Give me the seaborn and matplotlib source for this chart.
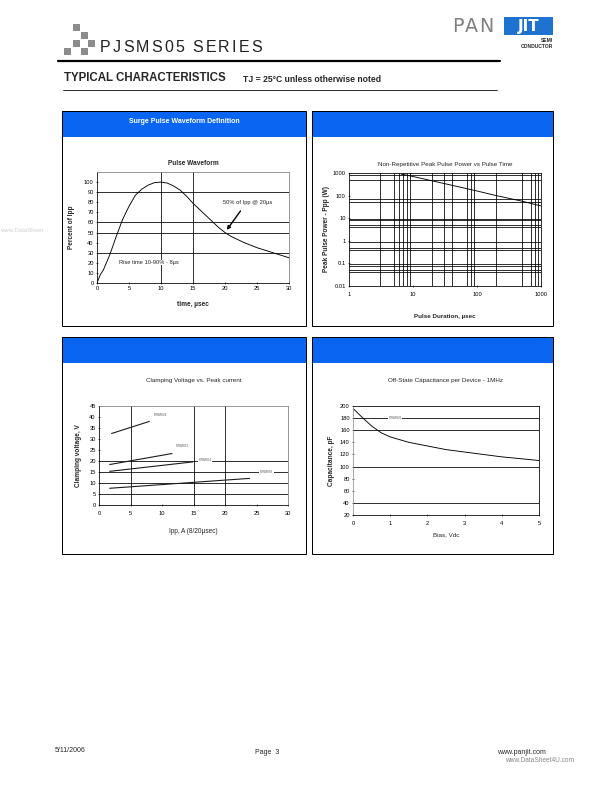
import numpy as np
import pandas as pd
import matplotlib
matplotlib.use("Agg")
import matplotlib.pyplot as plt
from matplotlib.patches import Rectangle
from matplotlib.ticker import FixedLocator, FixedFormatter, NullLocator
import seaborn as sns

# Pulse waveform (8/20us)
pulse_time = [0, 0.5, 1, 2, 3, 4, 5, 6, 7, 8, 9, 10, 11, 12, 13, 14, 15, 16,
              17, 18, 19, 20, 21, 22, 23, 24, 25, 26, 27, 28, 29, 30]
pulse_pct = [0, 8, 13, 28, 46, 63, 76, 87, 93, 97, 99.5, 100, 99, 96, 92, 86,
             79, 73, 67, 61, 55, 50, 46, 43, 40, 37.5, 35, 33, 31, 29, 27, 25]

# Peak pulse power vs pulse time
pulse_dur = [6.5, 10, 20, 50, 100, 200, 500, 1000]
peak_power = [900, 700, 450, 250, 160, 100, 57, 35]

# Clamping voltage vs peak current
clamp_devices = ["PJSMS24", "PJSMS15", "PJSMS12", "PJSMS05"]
clamp_ipp = [[2.0, 8.0], [1.7, 11.6], [1.7, 14.9], [1.7, 23.9]]
clamp_vc = [[32.5, 38.0], [18.4, 23.4], [15.3, 19.6], [7.6, 12.1]]
clamp_label_xy = [(8.7, 40.8), (12.2, 26.7), (15.8, 20.5), (25.5, 15.2)]

# Capacitance vs bias
bias_v = [0, 0.1, 0.25, 0.5, 0.75, 1, 1.5, 2, 2.5, 3, 3.5, 4, 4.5, 5]
cap_pf = [196, 190, 181, 167, 156, 149, 140, 134, 128, 124, 120, 116, 113, 110]

sns.set_theme(style="white")
plt.rcParams['font.family'] = ['Liberation Sans', 'DejaVu Sans']
narrow = ['Liberation Sans Narrow', 'Liberation Sans', 'DejaVu Sans']

W, H = 612, 792
BLUE = "#0a66f2"
fig = plt.figure(figsize=(W / 72, H / 72), dpi=72)
renderer = fig.canvas.get_renderer()


def fx(x):
    return x / W


def fy(y):
    return 1 - y / H


def rect(x0, y0, x1, y1, **kw):
    fig.add_artist(Rectangle((fx(x0), fy(y1)), (x1 - x0) / W, (y1 - y0) / H,
                             transform=fig.transFigure, **kw))


def spaced_text(x, y, s, track, **kw):
    # letter-spaced heading, one glyph at a time
    for ch in s:
        t = fig.text(fx(x), fy(y), ch, va='center', ha='left', **kw)
        x += t.get_window_extent(renderer).width + track


def axes_at(x0, y0, x1, y1):
    ax = fig.add_axes([fx(x0), fy(y1), (x1 - x0) / W, (y1 - y0) / H])
    ax.set_facecolor("white")
    for s in ["left", "bottom"]:
        ax.spines[s].set_color("black")
        ax.spines[s].set_linewidth(0.8)
    for s in ["top", "right"]:
        ax.spines[s].set_color("#808080")
        ax.spines[s].set_linewidth(0.8)
    ax.tick_params(axis='both', labelsize=5.8, length=2.5, width=0.6, pad=2,
                   direction='inout', colors='black', left=True, bottom=True)
    return ax


# ---- page header ----
for sx, sy in [(73, 24), (81, 32), (88, 40), (73, 40), (64, 48), (81, 48)]:
    rect(sx, sy, sx + 7, sy + 7, color="#8c8c8c", lw=0)
spaced_text(100, 47, "PJSMS05 SERIES", 2.1, fontsize=16, color='#222222')
fig.add_artist(plt.Line2D([fx(58), fx(500)], [fy(61), fy(61)], color='black',
                          lw=2.2, transform=fig.transFigure))
# logo
spaced_text(452, 26, "PAN", 1.5, fontsize=19, color='#808080', family='DejaVu Sans')
rect(504, 17, 553, 35, color="#1f73d0", lw=0)
fig.text(fx(528.5), fy(26.5), "JIT", fontsize=15, color='white', fontweight='bold',
         va='center', ha='center', family='DejaVu Sans')
fig.text(fx(553), fy(40), "SEMI", fontsize=5, fontweight='bold', ha='right', va='center')
fig.text(fx(553), fy(46), "CONDUCTOR", fontsize=5, fontweight='bold', ha='right', va='center')

fig.text(fx(64), fy(78), "TYPICAL CHARACTERISTICS", fontsize=11.5, fontweight='bold',
         va='center', ha='left')
fig.text(fx(243), fy(79), "TJ = 25\u00b0C unless otherwise noted", fontsize=8.6,
         fontweight='bold', va='center', ha='left')
fig.add_artist(plt.Line2D([fx(63), fx(497)], [fy(90), fy(90)], color='black',
                          lw=0.8, transform=fig.transFigure))

# ---- panel frames ----
panels = [(62, 111, 306, 326), (312, 111, 553, 326), (62, 337, 306, 554), (312, 337, 553, 554)]
headers = ["Surge Pulse Waveform Definition", "", "", ""]
for (x0, y0, x1, y1), head in zip(panels, headers):
    rect(x0, y0, x1, y0 + 26, color=BLUE, lw=0)
    rect(x0, y0, x1, y1, fill=False, ec='black', lw=1)
    if head:
        fig.text(fx((x0 + x1) / 2), fy(y0 + 10.5), head, color='white', fontsize=7,
                 fontweight='bold', ha='center', va='center')

# ---- panel 1: pulse waveform ----
ax1 = axes_at(97, 172, 289, 283)
sns.lineplot(x=pulse_time, y=pulse_pct, ax=ax1, color='black', lw=0.9)
ax1.set_xlim(0, 30)
ax1.set_ylim(0, 110)
ax1.set_xticks(range(0, 31, 5))
ax1.set_yticks(range(0, 101, 10))
for g in [30, 50, 60, 90]:
    ax1.axhline(g, color='black', lw=0.8, zorder=0)
for g in [10, 15]:
    ax1.axvline(g, color='black', lw=0.8, zorder=0)
ax1.text(19.7, 80, "50% of Ipp @ 20\u00b5s", fontsize=5.8, va='center', ha='left')
ax1.annotate("", xy=(20.1, 51), xytext=(22.6, 73),
             arrowprops=dict(arrowstyle='-|>', color='black', lw=1.4, mutation_scale=7))
ax1.text(3.5, 20.3, "Rise time 10-90% - 8\u00b5s", fontsize=5.8, va='center', ha='left',
         bbox=dict(facecolor='white', edgecolor='none', pad=0.3))
ax1.set_title("Pulse Waveform", fontsize=6.5, fontweight='bold', pad=7)
ax1.set_xlabel("time, \u00b5sec", fontsize=6.5, fontweight='bold', labelpad=10)
ax1.set_ylabel("Percent of Ipp", fontsize=6.5, fontweight='bold', labelpad=9)

# ---- panel 2: peak pulse power ----
ax2 = axes_at(349, 173, 541, 286)
sns.lineplot(x=pulse_dur, y=peak_power, ax=ax2, color='black', lw=0.9)
ax2.set_xscale('log')
ax2.set_yscale('log')
ax2.set_xlim(1, 1000)
ax2.set_ylim(0.01, 1000)
xt = [1, 10, 100, 1000]
yt = [0.01, 0.1, 1, 10, 100, 1000]
ax2.xaxis.set_major_locator(FixedLocator(xt))
ax2.xaxis.set_major_formatter(FixedFormatter(["1", "10", "100", "1000"]))
ax2.yaxis.set_major_locator(FixedLocator(yt))
ax2.yaxis.set_major_formatter(FixedFormatter(["0.01", "0.1", "1", "10", "100", "1000"]))
ax2.xaxis.set_minor_locator(NullLocator())
ax2.yaxis.set_minor_locator(NullLocator())
ax2.tick_params(axis='x', pad=5)
for s in ["top", "right"]:
    ax2.spines[s].set_color("black")
for g in [3, 5, 6, 7, 8, 9, 20, 30, 40, 70, 80, 90, 200, 500, 700, 800, 900]:
    ax2.axvline(g, color='black', lw=0.8, zorder=0)
for g in [800, 500, 70, 50, 9, 8, 5, 4, 0.9, 0.5, 0.4, 0.09, 0.08, 0.05, 0.04]:
    ax2.axhline(g, color='black', lw=0.8, zorder=0)
ax2.set_title("Non-Repetitive Peak Pulse Power vs Pulse Time", fontsize=6.2,
              family=narrow, pad=7)
ax2.set_xlabel("Pulse Duration, \u00b5sec", fontsize=6.2, family=narrow,
               fontweight='bold', labelpad=17)
ax2.set_ylabel("Peak Pulse Power - Ppp (W)", fontsize=6.5, fontweight='bold', labelpad=3)

# ---- panel 3: clamping voltage ----
ax3 = axes_at(99, 406, 288, 505)
for name, xs, ys, (lx, ly) in zip(clamp_devices, clamp_ipp, clamp_vc, clamp_label_xy):
    sns.lineplot(x=xs, y=ys, ax=ax3, color='#1a1a1a', lw=1.1)
    ax3.text(lx, ly, name, fontsize=3, color='#555555', ha='left', va='center',
             bbox=dict(facecolor='white', edgecolor='none', pad=0.6))
ax3.set_xlim(0, 30)
ax3.set_ylim(0, 45)
ax3.set_xticks(range(0, 31, 5))
ax3.set_yticks(range(0, 46, 5))
ax3.tick_params(axis='x', pad=5)
for g in [5, 10, 15, 20]:
    ax3.axhline(g, color='black', lw=0.8, zorder=0)
for g in [5, 15, 20]:
    ax3.axvline(g, color='black', lw=0.8, zorder=0)
ax3.set_title("Clamping Voltage vs. Peak current", fontsize=6.2, family=narrow, pad=24)
ax3.set_xlabel("Ipp, A (8/20\u00b5sec)", fontsize=6.5, family=narrow, labelpad=12)
ax3.set_ylabel("Clamping voltage, V", fontsize=6.5, fontweight='bold', labelpad=7)

# ---- panel 4: capacitance ----
ax4 = axes_at(353, 406, 539, 515)
sns.lineplot(x=bias_v, y=cap_pf, ax=ax4, color='black', lw=0.9)
ax4.set_xlim(0, 5)
ax4.set_ylim(20, 200)
ax4.set_xticks(range(0, 6))
ax4.set_yticks(range(20, 201, 20))
ax4.tick_params(axis='x', pad=5)
ax4.spines["left"].set_color("#909090")
for s in ["top", "right"]:
    ax4.spines[s].set_color("black")
for g in [40, 100, 160, 180]:
    ax4.axhline(g, color='black', lw=0.8, zorder=0)
ax4.text(1.13, 181, "PJSMS05", fontsize=3, color='#555555', ha='center', va='center',
         bbox=dict(facecolor='white', edgecolor='none', pad=0.6))
ax4.set_title("Off-State Capacitance per Device - 1MHz", fontsize=6.2, family=narrow, pad=24)
ax4.set_xlabel("Bias, Vdc", fontsize=6.2, family=narrow, labelpad=6)
ax4.set_ylabel("Capacitance, pF", fontsize=6.5, fontweight='bold', labelpad=5)

# ---- footer and watermark ----
fig.text(fx(0), fy(230), "www.DataSheet", fontsize=6, color='#d0d0d0', va='center')
fig.text(fx(55), fy(750), "5/11/2006", fontsize=7, va='center', ha='left')
fig.text(fx(255), fy(752), "Page  3", fontsize=7, va='center', ha='left')
fig.text(fx(497), fy(752), "www.panjit.com", fontsize=7, va='center', ha='left')
fig.text(fx(505), fy(760), "www.DataSheet4U.com", fontsize=6.5, color='#888888',
         va='center', ha='left')

fig.savefig("out.png", dpi=72, facecolor='white')
